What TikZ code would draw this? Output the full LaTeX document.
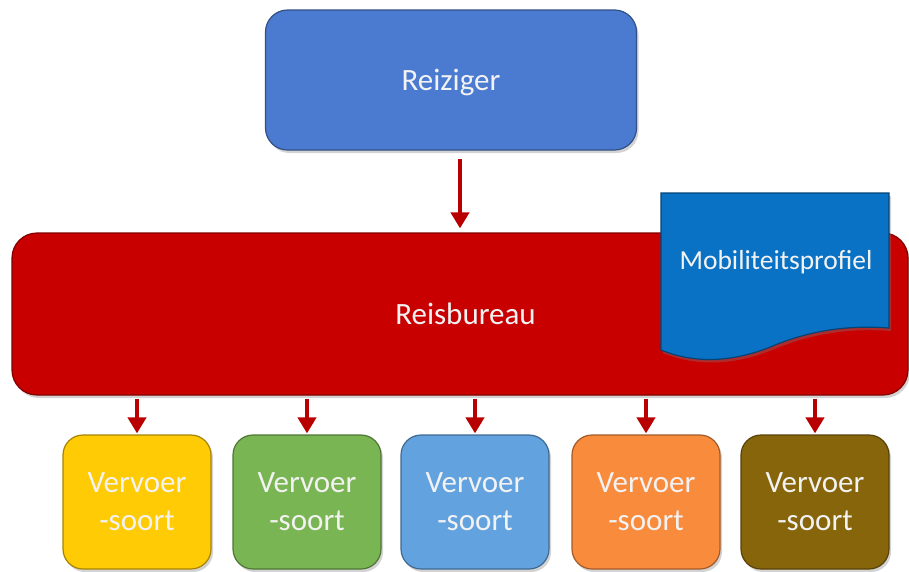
\documentclass[tikz,border=0pt]{standalone}
\usepackage{fontspec}
\setmainfont{Carlito}
\usepackage{xcolor}
\usepackage{tikz}
\usetikzlibrary{calc,arrows.meta,shapes,positioning,shadows}

\definecolor{reizigerblue}{HTML}{4A7BD0}
\definecolor{bureaured}{HTML}{C80000}
\definecolor{profielblue}{HTML}{0A72C4}
\definecolor{arrowred}{HTML}{B80000}
\definecolor{soortyellow}{HTML}{FFCB05}
\definecolor{soortgreen}{HTML}{79B552}
\definecolor{soortblue}{HTML}{62A2DF}
\definecolor{soortorange}{HTML}{F98B3D}
\definecolor{soortbrown}{HTML}{87650A}

\begin{document}
\begin{tikzpicture}[x=1pt,y=-1pt]
  \tikzset{box/.style={rounded corners=20pt, fill=#1, draw=#1!65!black,
                       line width=1.2pt, text=white!95!black, align=center,
                       inner sep=0pt, text depth=0pt,
                       drop shadow={shadow xshift=2pt,shadow yshift=-3pt,opacity=0.35}},
           soortbox/.style={box=#1, minimum width=148pt, minimum height=134pt,
                            font=\fontsize{31}{38}\selectfont,
                            execute at begin node={\vspace*{9pt}}},
           arr/.style={draw=arrowred, line width=4.5pt,
                       -{Triangle[width=18pt,length=16pt]}}}
  \useasboundingbox (0,0) rectangle (909,571);

  % top
  \node[box=reizigerblue, minimum width=371pt, minimum height=140pt,
        rounded corners=22pt, font=\fontsize{31}{36}\selectfont]
        (reiziger) at (451,80) {Reiziger};
  \node[box=bureaured, minimum width=896pt, minimum height=162pt,
        rounded corners=25pt, font=\fontsize{31}{36}\selectfont]
        (reisbureau) at (460,314) {\hspace*{11pt}Reisbureau};

  % profiel
  \filldraw[fill=profielblue, draw=profielblue!60!black, line width=1.2pt,
            drop shadow={shadow xshift=2pt,shadow yshift=-3pt,opacity=0.35}]
    (661,193) -- (889,193) -- (889,328)
    .. controls (850,325) and (812,330) .. (775,345)
    .. controls (740,360) and (700,366) .. (661,350) -- cycle;
  \node[text=white!95!black, font=\fontsize{27.5}{30}\selectfont]
        (profiel) at (776,262) {Mobiliteitsprofiel};

  % vervoersoorten
  \node[soortbox=soortyellow] (soort1) at (137,502) {Vervoer\\-soort};
  \node[soortbox=soortgreen]  (soort2) at (307,502) {Vervoer\\-soort};
  \node[soortbox=soortblue]   (soort3) at (475,502) {Vervoer\\-soort};
  \node[soortbox=soortorange] (soort4) at (646,502) {Vervoer\\-soort};
  \node[soortbox=soortbrown]  (soort5) at (815,502) {Vervoer\\-soort};

  % arrows
  \draw[arr, shorten <=8pt, shorten >=4pt] (reisbureau.north |- reiziger.south) -- (reisbureau.north);
  \foreach \i in {1,...,5}
    \draw[arr, shorten <=3pt, shorten >=1pt] (reisbureau.south -| soort\i.north) -- (soort\i.north);
\end{tikzpicture}
\end{document}
